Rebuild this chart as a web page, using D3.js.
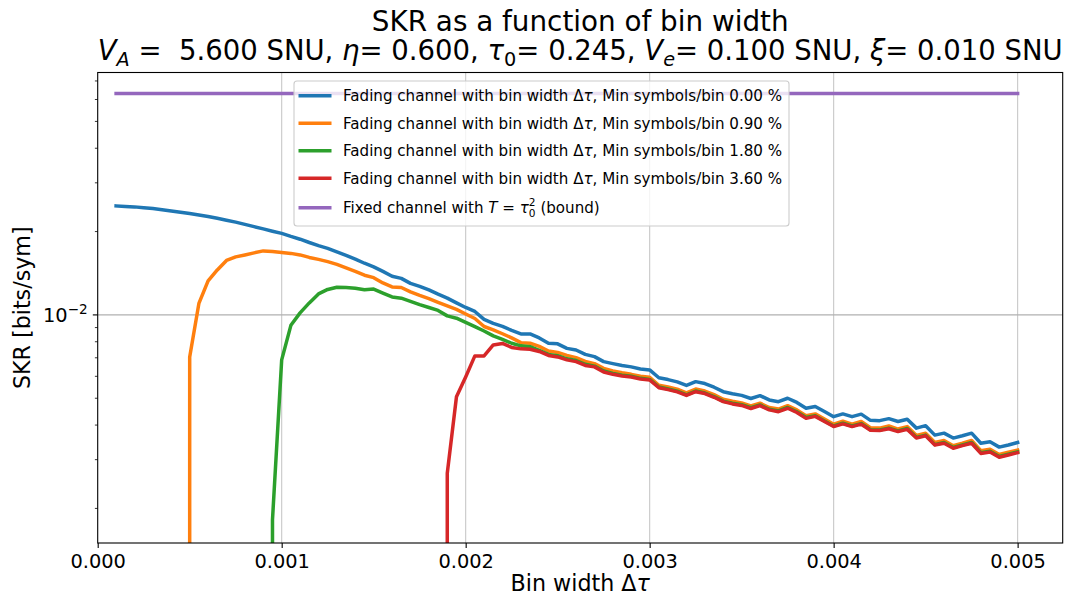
<!DOCTYPE html>
<html><head><meta charset="utf-8">
<script src="https://cdn.jsdelivr.net/npm/d3@7"></script>
<style>body{margin:0;background:#fff;} svg{display:block;} text{font-family:"DejaVu Sans",sans-serif;fill:#000;}</style>
</head><body><svg id="c" width="1067" height="600"></svg>
<script>
// ---------------- DATA ----------------
// bin widths Δτ: 0.0001 .. 0.005 in steps of 0.00005 (99 bins)
const binStart = 0.0001, binStep = 0.00005, binCount = 99;
const binWidths = d3.range(binCount).map(i => +(binStart + i * binStep).toFixed(5));

const skrMin000 = [
  0.02476, 0.02466, 0.02456, 0.02440, 0.02421, 0.02399, 0.02375, 0.02350, 0.02323, 0.02294,
  0.02266, 0.02234, 0.02199, 0.02163, 0.02123, 0.02084, 0.02045, 0.02006, 0.01970, 0.01921,
  0.01877, 0.01826, 0.01780, 0.01739, 0.01689, 0.01641, 0.01591, 0.01537, 0.01491, 0.01436,
  0.01380, 0.01355, 0.01300, 0.01268, 0.01231, 0.01188, 0.01150, 0.01105, 0.01064, 0.01029,
  0.00963, 0.00932, 0.00909, 0.00879, 0.00854, 0.00854, 0.00826, 0.00790, 0.00786, 0.00757,
  0.00747, 0.00720, 0.00707, 0.00678, 0.00667, 0.00657, 0.00649, 0.00638, 0.00633, 0.00593,
  0.00584, 0.00573, 0.00556, 0.00574, 0.00565, 0.00548, 0.00528, 0.00519, 0.00512, 0.00499,
  0.00511, 0.00493, 0.00486, 0.00500, 0.00483, 0.00460, 0.00467, 0.00448, 0.00429, 0.00439,
  0.00429, 0.00438, 0.00416, 0.00415, 0.00422, 0.00412, 0.00420, 0.00390, 0.00398, 0.00368,
  0.00374, 0.00359, 0.00366, 0.00374, 0.00344, 0.00348, 0.00333, 0.00339, 0.00346
];
const skrMin090 = [
  0, 0, 0, 0, 0, 0, 0, 0,
  0.00705, 0.01100, 0.01327, 0.01454, 0.01573, 0.01620, 0.01647, 0.01675, 0.01703, 0.01696, 0.01682, 0.01668,
  0.01647, 0.01613, 0.01587, 0.01558, 0.01522, 0.01479, 0.01436, 0.01391, 0.01363, 0.01305,
  0.01262, 0.01256, 0.01211, 0.01176, 0.01145, 0.01110, 0.01078, 0.01047, 0.01008, 0.00971,
  0.00908, 0.00883, 0.00855, 0.00826, 0.00794, 0.00790, 0.00770, 0.00741, 0.00732, 0.00714,
  0.00701, 0.00679, 0.00667, 0.00641, 0.00628, 0.00618,
  0.00610, 0.00600, 0.00595, 0.00557, 0.00549, 0.00539, 0.00523, 0.00540, 0.00531, 0.00515,
  0.00496, 0.00488, 0.00481, 0.00469, 0.00480, 0.00463, 0.00457, 0.00470, 0.00454, 0.00432,
  0.00439, 0.00421, 0.00403, 0.00413, 0.00403, 0.00412, 0.00391, 0.00390, 0.00397, 0.00387,
  0.00395, 0.00367, 0.00374, 0.00346, 0.00352, 0.00337, 0.00344, 0.00352, 0.00323, 0.00327,
  0.00313, 0.00319, 0.00325
];
const skrMin180 = [
  0, 0, 0, 0, 0, 0, 0, 0, 0, 0, 0, 0, 0, 0, 0, 0, 0,
  0.00182, 0.00688, 0.00917, 0.01017, 0.01105, 0.01191, 0.01236, 0.01259, 0.01257, 0.01249,
  0.01233, 0.01240, 0.01199, 0.01161, 0.01149, 0.01119, 0.01089, 0.01064, 0.01038, 0.00992,
  0.00973, 0.00940, 0.00907, 0.00875, 0.00840, 0.00816, 0.00790,
  0.00773, 0.00768, 0.00745, 0.00720, 0.00712, 0.00694, 0.00684, 0.00663, 0.00653, 0.00627,
  0.00615, 0.00606,
  0.00600, 0.00590, 0.00585, 0.00549, 0.00540, 0.00530, 0.00514, 0.00531, 0.00522, 0.00507,
  0.00488, 0.00480, 0.00474, 0.00462, 0.00473, 0.00456, 0.00450, 0.00463, 0.00447, 0.00426,
  0.00432, 0.00414, 0.00397, 0.00406, 0.00397, 0.00405, 0.00385, 0.00384, 0.00390, 0.00381,
  0.00389, 0.00361, 0.00368, 0.00340, 0.00346, 0.00332, 0.00339, 0.00346, 0.00318, 0.00322,
  0.00308, 0.00314, 0.00320
];
const skrMin360 = [
  0, 0, 0, 0, 0, 0, 0, 0, 0, 0, 0, 0, 0, 0, 0, 0, 0, 0,
  0, 0, 0, 0, 0, 0, 0, 0, 0, 0, 0, 0, 0, 0, 0, 0, 0, 0,
  0.00268, 0.00506, 0.00597, 0.00711, 0.00711, 0.00779, 0.00789, 0.00763, 0.00754, 0.00752,
  0.00738, 0.00714, 0.00705, 0.00688, 0.00678, 0.00657, 0.00649, 0.00622, 0.00610, 0.00602,
  0.00597, 0.00587, 0.00582, 0.00546, 0.00537, 0.00527, 0.00512, 0.00528, 0.00520, 0.00504,
  0.00486, 0.00477, 0.00471, 0.00459, 0.00470, 0.00454, 0.00447, 0.00460, 0.00444, 0.00423,
  0.00430, 0.00412, 0.00395, 0.00404, 0.00395, 0.00403, 0.00383, 0.00382, 0.00388, 0.00379,
  0.00386, 0.00359, 0.00366, 0.00339, 0.00344, 0.00330, 0.00337, 0.00344, 0.00316, 0.00320,
  0.00306, 0.00312, 0.00318
];
const boundSKR = 0.0630; // fixed channel with T = tau0^2

const minSymbolLabels = ["0.00", "0.90", "1.80", "3.60"];
const seriesColors = ["#1f77b4", "#ff7f0e", "#2ca02c", "#d62728", "#9467bd"];
const xTickValues = [0.000, 0.001, 0.002, 0.003, 0.004, 0.005];
const yMajorTicks = [0.01];
const yMinorTicks = [0.002, 0.003, 0.004, 0.005, 0.006, 0.007, 0.008, 0.009, 0.02, 0.03, 0.04, 0.05, 0.06, 0.07];

// ---------------- LAYOUT ----------------
const svg = d3.select("#c");
const L = 97.7, R = 1062.7, T = 72.5, B = 543;
const x = d3.scaleLinear().domain([0, 0.005245]).range([L, R]);
const y = d3.scaleLog().domain([0.0015, 0.0751]).range([B, T]);

const FS_TICK = 19.4, FS_LABEL = 22.2, FS_TITLE = 27.5, FS_LEG = 15.1;

// rich text helper: sequence of segments laid out left to right
function rich(parent, segs, x0, y0, size, anchor) {
  const g = parent.append("g");
  let cx = 0;
  segs.forEach(s => {
    const t = g.append("text")
      .attr("x", cx).attr("y", s.dy || 0)
      .style("font-size", (size * (s.s || 1)) + "px")
      .style("font-style", s.it ? "italic" : "normal")
      .text(s.t.replace(/ /g, "\u00a0"));
    const w = t.node().getComputedTextLength();
    if (s.adv !== false) cx += w;
  });
  let tx = x0;
  if (anchor === "middle") tx = x0 - cx / 2;
  else if (anchor === "end") tx = x0 - cx;
  g.attr("transform", `translate(${tx},${y0})`);
  return g;
}

// grid
const grid = svg.append("g");
grid.selectAll("line.gx").data(xTickValues.filter(d => d > 0)).join("line")
  .attr("x1", d => x(d)).attr("x2", d => x(d)).attr("y1", T).attr("y2", B)
  .attr("stroke", "#b0b0b0").attr("stroke-width", 1.1).attr("stroke-opacity", 0.7);
grid.selectAll("line.gy").data(yMajorTicks).join("line")
  .attr("x1", L).attr("x2", R).attr("y1", d => y(d)).attr("y2", d => y(d))
  .attr("stroke", "#b0b0b0").attr("stroke-width", 1.1);

// clip
svg.append("clipPath").attr("id", "clip").append("rect")
  .attr("x", L).attr("y", T).attr("width", R - L).attr("height", B - T);

const line = d3.line()
  .x(d => x(d.x))
  .y(d => d.v > 0 ? y(d.v) : B + 1e6);

const allSeries = [skrMin000, skrMin090, skrMin180, skrMin360];
const plot = svg.append("g").attr("clip-path", "url(#clip)");
allSeries.forEach((vals, i) => {
  const pts = binWidths.map((bw, k) => ({ x: bw, v: vals[k] }));
  plot.append("path").attr("d", line(pts))
    .attr("fill", "none").attr("stroke", seriesColors[i]).attr("stroke-width", 3.5)
    .attr("stroke-linejoin", "round").attr("stroke-linecap", "square");
});
plot.append("path")
  .attr("d", line(binWidths.map(bw => ({ x: bw, v: boundSKR }))))
  .attr("fill", "none").attr("stroke", seriesColors[4]).attr("stroke-width", 3.5)
  .attr("stroke-linecap", "square");

// spines
svg.append("rect").attr("x", L).attr("y", T).attr("width", R - L).attr("height", B - T)
  .attr("fill", "none").attr("stroke", "#000").attr("stroke-width", 1.1);

// x axis
const xAxis = svg.append("g").attr("transform", `translate(0,${B})`)
  .call(d3.axisBottom(x).tickValues(xTickValues).tickFormat(d3.format(".3f")).tickSize(4.9).tickPadding(6));
xAxis.select(".domain").remove();
xAxis.selectAll(".tick line").attr("stroke", "#000").attr("stroke-width", 1.1);
xAxis.selectAll(".tick text").style("font-size", FS_TICK + "px").attr("font-family", null).attr("fill", "#000");

// y axis ticks
const yAx = svg.append("g");
yAx.selectAll("line.maj").data(yMajorTicks).join("line")
  .attr("x1", L - 4.9).attr("x2", L).attr("y1", d => y(d)).attr("y2", d => y(d))
  .attr("stroke", "#000").attr("stroke-width", 1.1);
yAx.selectAll("line.min").data(yMinorTicks).join("line")
  .attr("x1", L - 2.8).attr("x2", L).attr("y1", d => y(d)).attr("y2", d => y(d))
  .attr("stroke", "#000").attr("stroke-width", 0.8);
yMajorTicks.forEach(v => {
  const e = Math.round(Math.log10(v));
  rich(svg, [
    { t: "10" },
    { t: "\u2212" + Math.abs(e), s: 0.7, dy: -8 }
  ], L - 10, y(v) + 7, FS_TICK, "end");
});

// axis labels
rich(svg, [{ t: "Bin width Δ" }, { t: "τ", it: true }], (L + R) / 2, 591, FS_LABEL, "middle");
svg.append("text").attr("transform", `translate(30,${(T + B) / 2}) rotate(-90)`)
  .attr("text-anchor", "middle").style("font-size", FS_LABEL + "px").text("SKR [bits/sym]");

// title
svg.append("text").attr("x", (L + R) / 2).attr("y", 31).attr("text-anchor", "middle")
  .style("font-size", "27.8px").text("SKR as a function of bin width");
rich(svg, [
  { t: "V", it: true }, { t: "A", it: true, s: 0.7, dy: 6 }, { t: " =  5.600 SNU, " },
  { t: "η", it: true }, { t: "= 0.600, " },
  { t: "τ", it: true }, { t: "0", s: 0.7, dy: 6 }, { t: "= 0.245, " },
  { t: "V", it: true }, { t: "e", it: true, s: 0.7, dy: 6 }, { t: "= 0.100 SNU, " },
  { t: "ξ", it: true }, { t: "= 0.010 SNU" }
], (L + R) / 2, 60, FS_TITLE, "middle");

// legend
const leg = svg.append("g");
const LX = 294, LY = 81, LW = 495, LH = 145;
leg.append("rect").attr("x", LX).attr("y", LY).attr("width", LW).attr("height", LH)
  .attr("rx", 3).attr("fill", "#fff").attr("fill-opacity", 0.8)
  .attr("stroke", "#cccccc").attr("stroke-width", 1.1);
const rowY = [95.7, 123.3, 150.7, 178.3, 207.7];
rowY.forEach((ry, i) => {
  leg.append("line").attr("x1", 298.5).attr("x2", 331.5).attr("y1", ry).attr("y2", ry)
    .attr("stroke", seriesColors[i]).attr("stroke-width", 3.5).attr("stroke-linecap", "butt");
  if (i < 4) {
    rich(leg, [
      { t: "Fading channel with bin width Δ" }, { t: "τ", it: true },
      { t: ", Min symbols/bin " + minSymbolLabels[i] + " %" }
    ], 343, ry + 5.5, FS_LEG, "start");
  } else {
    rich(leg, [
      { t: "Fixed channel with " }, { t: "T", it: true }, { t: " = " },
      { t: "τ", it: true }, { t: "2", s: 0.7, dy: -7, adv: false }, { t: "0", s: 0.7, dy: 4 },
      { t: " (bound)" }
    ], 343, ry + 5.5, FS_LEG, "start");
  }
});
</script></body></html>
